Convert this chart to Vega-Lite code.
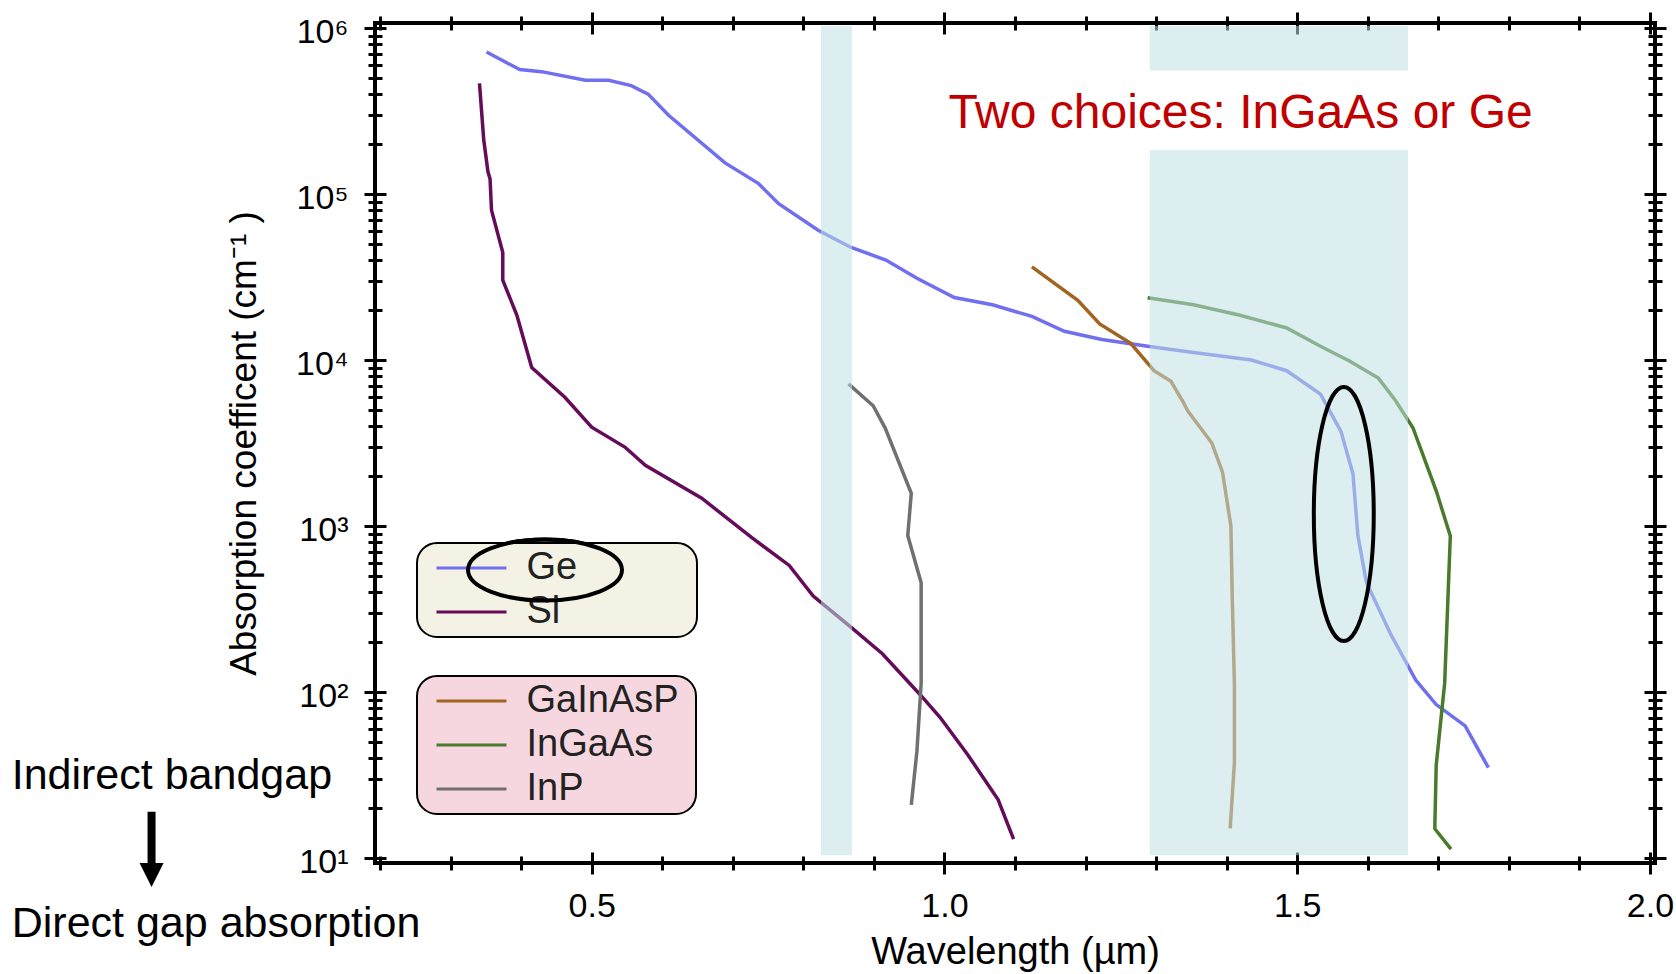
{
  "$schema": "https://vega.github.io/schema/vega-lite/v6.json",
  "width": 1280,
  "height": 840,
  "autosize": {"type": "none"},
  "padding": {"left": 375, "top": 23, "right": 21, "bottom": 111},
  "background": "white",
  "config": {
    "font": "Liberation Sans",
    "view": {"stroke": "black", "strokeWidth": 4},
    "axis": {"grid": false, "domain": false, "tickColor": "black", "tickWidth": 3, "labelColor": "black", "titleColor": "black", "titleFontWeight": "normal", "labelFont": "Liberation Sans", "titleFont": "Liberation Sans"}
  },
  "datasets": {
    "curves": [
      {"material": "Ge", "wavelength": 0.351, "absorption": 717000},
      {"material": "Ge", "wavelength": 0.398, "absorption": 562000},
      {"material": "Ge", "wavelength": 0.429, "absorption": 546000},
      {"material": "Ge", "wavelength": 0.491, "absorption": 484000},
      {"material": "Ge", "wavelength": 0.524, "absorption": 484000},
      {"material": "Ge", "wavelength": 0.556, "absorption": 450000},
      {"material": "Ge", "wavelength": 0.58, "absorption": 400000},
      {"material": "Ge", "wavelength": 0.609, "absorption": 298000},
      {"material": "Ge", "wavelength": 0.689, "absorption": 154000},
      {"material": "Ge", "wavelength": 0.736, "absorption": 116000},
      {"material": "Ge", "wavelength": 0.765, "absorption": 87500},
      {"material": "Ge", "wavelength": 0.821, "absorption": 60500},
      {"material": "Ge", "wavelength": 0.867, "absorption": 47800},
      {"material": "Ge", "wavelength": 0.917, "absorption": 40000},
      {"material": "Ge", "wavelength": 0.961, "absorption": 31100},
      {"material": "Ge", "wavelength": 1.014, "absorption": 23800},
      {"material": "Ge", "wavelength": 1.068, "absorption": 21500},
      {"material": "Ge", "wavelength": 1.124, "absorption": 18300},
      {"material": "Ge", "wavelength": 1.17, "absorption": 14900},
      {"material": "Ge", "wavelength": 1.223, "absorption": 13300},
      {"material": "Ge", "wavelength": 1.288, "absorption": 12100},
      {"material": "Ge", "wavelength": 1.353, "absorption": 11100},
      {"material": "Ge", "wavelength": 1.435, "absorption": 10000},
      {"material": "Ge", "wavelength": 1.485, "absorption": 8620},
      {"material": "Ge", "wavelength": 1.533, "absorption": 6230},
      {"material": "Ge", "wavelength": 1.562, "absorption": 3720},
      {"material": "Ge", "wavelength": 1.579, "absorption": 2060},
      {"material": "Ge", "wavelength": 1.586, "absorption": 876},
      {"material": "Ge", "wavelength": 1.598, "absorption": 458},
      {"material": "Ge", "wavelength": 1.632, "absorption": 225},
      {"material": "Ge", "wavelength": 1.668, "absorption": 118},
      {"material": "Ge", "wavelength": 1.697, "absorption": 84},
      {"material": "Ge", "wavelength": 1.738, "absorption": 62.5},
      {"material": "Ge", "wavelength": 1.771, "absorption": 35},
      {"material": "Si", "wavelength": 0.341, "absorption": 464000},
      {"material": "Si", "wavelength": 0.347, "absorption": 212000},
      {"material": "Si", "wavelength": 0.353, "absorption": 136000},
      {"material": "Si", "wavelength": 0.356, "absorption": 123000},
      {"material": "Si", "wavelength": 0.358, "absorption": 80000},
      {"material": "Si", "wavelength": 0.374, "absorption": 44400},
      {"material": "Si", "wavelength": 0.374, "absorption": 30300},
      {"material": "Si", "wavelength": 0.394, "absorption": 18600},
      {"material": "Si", "wavelength": 0.415, "absorption": 9010},
      {"material": "Si", "wavelength": 0.462, "absorption": 5960},
      {"material": "Si", "wavelength": 0.5, "absorption": 3940},
      {"material": "Si", "wavelength": 0.547, "absorption": 2990},
      {"material": "Si", "wavelength": 0.576, "absorption": 2320},
      {"material": "Si", "wavelength": 0.656, "absorption": 1470},
      {"material": "Si", "wavelength": 0.727, "absorption": 850},
      {"material": "Si", "wavelength": 0.78, "absorption": 579},
      {"material": "Si", "wavelength": 0.814, "absorption": 378},
      {"material": "Si", "wavelength": 0.867, "absorption": 247},
      {"material": "Si", "wavelength": 0.912, "absorption": 170},
      {"material": "Si", "wavelength": 0.965, "absorption": 97},
      {"material": "Si", "wavelength": 0.994, "absorption": 70.2},
      {"material": "Si", "wavelength": 1.033, "absorption": 41.9},
      {"material": "Si", "wavelength": 1.076, "absorption": 22.5},
      {"material": "Si", "wavelength": 1.098, "absorption": 13},
      {"material": "GaInAsP", "wavelength": 1.124, "absorption": 36400},
      {"material": "GaInAsP", "wavelength": 1.189, "absorption": 22900},
      {"material": "GaInAsP", "wavelength": 1.22, "absorption": 16500},
      {"material": "GaInAsP", "wavelength": 1.264, "absorption": 12600},
      {"material": "GaInAsP", "wavelength": 1.297, "absorption": 8620},
      {"material": "GaInAsP", "wavelength": 1.321, "absorption": 7440},
      {"material": "GaInAsP", "wavelength": 1.338, "absorption": 5620},
      {"material": "GaInAsP", "wavelength": 1.345, "absorption": 4920},
      {"material": "GaInAsP", "wavelength": 1.379, "absorption": 3160},
      {"material": "GaInAsP", "wavelength": 1.394, "absorption": 2120},
      {"material": "GaInAsP", "wavelength": 1.406, "absorption": 1000},
      {"material": "GaInAsP", "wavelength": 1.408, "absorption": 361},
      {"material": "GaInAsP", "wavelength": 1.411, "absorption": 111},
      {"material": "GaInAsP", "wavelength": 1.411, "absorption": 37.7},
      {"material": "GaInAsP", "wavelength": 1.405, "absorption": 15.1},
      {"material": "InGaAs", "wavelength": 1.288, "absorption": 23700},
      {"material": "InGaAs", "wavelength": 1.353, "absorption": 21500},
      {"material": "InGaAs", "wavelength": 1.419, "absorption": 18600},
      {"material": "InGaAs", "wavelength": 1.485, "absorption": 15600},
      {"material": "InGaAs", "wavelength": 1.533, "absorption": 12100},
      {"material": "InGaAs", "wavelength": 1.574, "absorption": 9860},
      {"material": "InGaAs", "wavelength": 1.615, "absorption": 7780},
      {"material": "InGaAs", "wavelength": 1.639, "absorption": 5720},
      {"material": "InGaAs", "wavelength": 1.664, "absorption": 3910},
      {"material": "InGaAs", "wavelength": 1.697, "absorption": 1630},
      {"material": "InGaAs", "wavelength": 1.717, "absorption": 870},
      {"material": "InGaAs", "wavelength": 1.709, "absorption": 113},
      {"material": "InGaAs", "wavelength": 1.697, "absorption": 36.3},
      {"material": "InGaAs", "wavelength": 1.695, "absorption": 15},
      {"material": "InGaAs", "wavelength": 1.718, "absorption": 11.3},
      {"material": "InP", "wavelength": 0.864, "absorption": 7180},
      {"material": "InP", "wavelength": 0.899, "absorption": 5300},
      {"material": "InP", "wavelength": 0.916, "absorption": 3890},
      {"material": "InP", "wavelength": 0.953, "absorption": 1575},
      {"material": "InP", "wavelength": 0.948, "absorption": 876},
      {"material": "InP", "wavelength": 0.967, "absorption": 455},
      {"material": "InP", "wavelength": 0.967, "absorption": 113},
      {"material": "InP", "wavelength": 0.961, "absorption": 44},
      {"material": "InP", "wavelength": 0.953, "absorption": 20.9}
    ],
    "bands": [
      {"start": 0.825, "end": 0.869, "low": 10.4, "high": 1030000},
      {"start": 1.291, "end": 1.657, "low": 10.4, "high": 184000},
      {"start": 1.291, "end": 1.657, "low": 555000, "high": 1030000}
    ]
  },
  "layer": [
    {
      "data": {"name": "curves"},
      "transform": [{"filter": {"field": "material", "oneOf": ["Ge", "Si"]}}],
      "mark": {"type": "line", "strokeWidth": 3.5},
      "encoding": {
        "x": {"field": "wavelength", "type": "quantitative",
          "scale": {"domain": [0.1929, 2.0071], "nice": false, "zero": false},
          "axis": {"orient": "bottom", "values": [0.5, 1, 1.5, 2], "format": ".1f", "offset": -11, "tickSize": 22, "labelFontSize": 34, "labelPadding": 15, "labelFlush": false, "labelOverlap": false, "title": "Wavelength (µm)", "titleFontSize": 38, "titlePadding": 10}},
        "y": {"field": "absorption", "type": "quantitative",
          "scale": {"type": "log", "domain": [9.33, 1072000], "nice": false},
          "axis": {"orient": "left", "values": [10, 100, 1000, 10000, 100000, 1000000], "labelExpr": "'10' + ['⁰','¹','²','³','⁴','⁵','⁶'][round(log(datum.value)/LN10)]", "offset": -11, "tickSize": 22, "labelFontSize": 34, "labelPadding": 16, "labelOffset": 4, "labelOverlap": false, "title": "Absorption coefficent (cm⁻¹ )", "titleFontSize": 37, "titlePadding": 32}},
        "color": {"field": "material", "type": "nominal",
          "scale": {"domain": ["Ge", "Si"], "range": ["#6f6ff0", "#640c5a"]},
          "legend": {"orient": "none", "legendX": 42, "legendY": 520, "title": null, "padding": 6, "fillColor": "#f4f2e4", "strokeColor": "black", "cornerRadius": 20, "symbolType": "M -2.5 0 L 2.5 0", "symbolSize": 784, "symbolStrokeWidth": 3, "symbolOffset": 29.5, "labelOffset": 36, "labelFontSize": 38, "labelFont": "Liberation Sans", "labelColor": "#222222", "labelLimit": 400, "rowPadding": 6, "labelExpr": "datum.label + '          \u2009\u200b'", "zindex": 1, "encode": {"legend": {"update": {"strokeWidth": {"value": 2}}}}}},
        "order": {"value": null}
      }
    },
    {
      "data": {"name": "curves"},
      "transform": [{"filter": {"field": "material", "oneOf": ["GaInAsP", "InGaAs", "InP"]}}],
      "mark": {"type": "line", "strokeWidth": 3.5},
      "encoding": {
        "x": {"field": "wavelength", "type": "quantitative",
          "scale": {"domain": [0.1929, 2.0071], "nice": false, "zero": false},
          "axis": {"orient": "bottom", "values": [0.2, 0.3, 0.4, 0.6, 0.7, 0.8, 0.9, 1.1, 1.2, 1.3, 1.4, 1.6, 1.7, 1.8, 1.9], "offset": -7, "tickSize": 14, "labels": false, "title": null}},
        "y": {"field": "absorption", "type": "quantitative",
          "scale": {"type": "log", "domain": [9.33, 1072000], "nice": false},
          "axis": {"orient": "left", "values": [20, 30, 40, 50, 60, 70, 80, 90, 200, 300, 400, 500, 600, 700, 800, 900, 2000, 3000, 4000, 5000, 6000, 7000, 8000, 9000, 20000, 30000, 40000, 50000, 60000, 70000, 80000, 90000, 200000, 300000, 400000, 500000, 600000, 700000, 800000, 900000], "offset": -7, "tickSize": 14, "labels": false, "title": null}},
        "color": {"field": "material", "type": "nominal",
          "scale": {"domain": ["GaInAsP", "InGaAs", "InP"], "range": ["#a2641f", "#4a7a2c", "#707070"]},
          "legend": {"orient": "none", "legendX": 42, "legendY": 653, "title": null, "padding": 6, "fillColor": "#f6d7df", "strokeColor": "black", "cornerRadius": 20, "symbolType": "M -2.5 0 L 2.5 0", "symbolSize": 784, "symbolStrokeWidth": 3, "symbolOffset": 29.5, "labelOffset": 36, "labelFontSize": 38, "labelFont": "Liberation Sans", "labelColor": "#222222", "labelLimit": 400, "rowPadding": 6, "labelExpr": "datum.label + ' \u200b'", "zindex": 1, "encode": {"legend": {"update": {"strokeWidth": {"value": 2}}}}}},
        "order": {"value": null}
      }
    },
    {
      "data": {"name": "bands"},
      "mark": {"type": "rect", "color": "#bfe0e3", "opacity": 0.55},
      "encoding": {
        "x": {"field": "start", "type": "quantitative",
          "scale": {"domain": [0.1929, 2.0071], "nice": false, "zero": false},
          "axis": {"orient": "top", "values": [0.5, 1, 1.5, 2], "offset": -11, "tickSize": 22, "labels": false, "title": null}},
        "x2": {"field": "end"},
        "y": {"field": "low", "type": "quantitative",
          "scale": {"type": "log", "domain": [9.33, 1072000], "nice": false},
          "axis": {"orient": "right", "values": [10, 100, 1000, 10000, 100000, 1000000], "offset": -11, "tickSize": 22, "labels": false, "title": null}},
        "y2": {"field": "high"}
      }
    },
    {
      "data": {"values": [{"note": "Ge", "wavelength": 0.4338, "absorption": 543}]},
      "mark": {"type": "point", "filled": false, "color": "black", "strokeWidth": 4, "size": 23716, "opacity": 1},
      "encoding": {
        "x": {"field": "wavelength", "type": "quantitative",
          "scale": {"domain": [0.1929, 2.0071], "nice": false, "zero": false},
          "axis": {"orient": "top", "values": [0.2, 0.3, 0.4, 0.6, 0.7, 0.8, 0.9, 1.1, 1.2, 1.3, 1.4, 1.6, 1.7, 1.8, 1.9], "offset": -7, "tickSize": 14, "labels": false, "title": null}},
        "y": {"field": "absorption", "type": "quantitative",
          "scale": {"type": "log", "domain": [9.33, 1072000], "nice": false},
          "axis": {"orient": "right", "values": [20, 30, 40, 50, 60, 70, 80, 90, 200, 300, 400, 500, 600, 700, 800, 900, 2000, 3000, 4000, 5000, 6000, 7000, 8000, 9000, 20000, 30000, 40000, 50000, 60000, 70000, 80000, 90000, 200000, 300000, 400000, 500000, 600000, 700000, 800000, 900000], "offset": -7, "tickSize": 14, "labels": false, "title": null}},
        "shape": {"field": "note", "type": "nominal",
          "scale": {"range": ["M 1 0 C 1 0.2187 0.5523 0.396 0 0.396 C -0.5523 0.396 -1 0.2187 -1 0 C -1 -0.2187 -0.5523 -0.396 0 -0.396 C 0.5523 -0.396 1 -0.2187 1 0 Z"]},
          "legend": {"orient": "none", "legendX": 91, "legendY": 468, "title": null, "padding": 0, "labelExpr": "''", "labelFontSize": 1, "symbolSize": 23716, "symbolStrokeWidth": 4, "symbolStrokeColor": "black", "symbolFillColor": "transparent", "symbolOpacity": 1, "zindex": 3}}
      }
    },
    {
      "data": {"values": [{"wavelength": 1.566, "absorption": 1180}]},
      "mark": {"type": "point", "filled": false, "color": "black", "strokeWidth": 4, "size": 64516, "opacity": 1, "shape": "M 0.236 0 C 0.236 0.5523 0.1303 1 0 1 C -0.1303 1 -0.236 0.5523 -0.236 0 C -0.236 -0.5523 -0.1303 -1 0 -1 C 0.1303 -1 0.236 -0.5523 0.236 0 Z"},
      "encoding": {
        "x": {"field": "wavelength", "type": "quantitative", "scale": {"domain": [0.1929, 2.0071], "nice": false, "zero": false}, "axis": null},
        "y": {"field": "absorption", "type": "quantitative", "scale": {"type": "log", "domain": [9.33, 1072000], "nice": false}, "axis": null}
      }
    },
    {
      "data": {"values": [{"note": "Two choices: InGaAs or Ge", "wavelength": 1.4197, "absorption": 250000}]},
      "mark": {"type": "text", "font": "Liberation Sans", "fontSize": 48, "color": "#c00000", "align": "center", "baseline": "alphabetic"},
      "encoding": {
        "x": {"field": "wavelength", "type": "quantitative", "scale": {"domain": [0.1929, 2.0071], "nice": false, "zero": false}, "axis": null},
        "y": {"field": "absorption", "type": "quantitative", "scale": {"type": "log", "domain": [9.33, 1072000], "nice": false}, "axis": null},
        "text": {"field": "note"}
      }
    },
    {
      "data": {"values": [
        {"note": "Indirect bandgap", "wavelength": -0.322, "absorption": 26.0},
        {"note": "Direct gap absorption", "wavelength": -0.322, "absorption": 3.34}
      ]},
      "mark": {"type": "text", "font": "Liberation Sans", "fontSize": 43, "color": "black", "align": "left", "baseline": "alphabetic"},
      "encoding": {
        "x": {"field": "wavelength", "type": "quantitative", "scale": {"domain": [0.1929, 2.0071], "nice": false, "zero": false}, "axis": null},
        "y": {"field": "absorption", "type": "quantitative", "scale": {"type": "log", "domain": [9.33, 1072000], "nice": false}, "axis": null},
        "text": {"field": "note"}
      }
    },
    {
      "data": {"values": [{"wavelength": -0.1238, "top": 19.0, "bottom": 9.08}]},
      "mark": {"type": "rule", "color": "black", "strokeWidth": 8},
      "encoding": {
        "x": {"field": "wavelength", "type": "quantitative", "scale": {"domain": [0.1929, 2.0071], "nice": false, "zero": false}, "axis": null},
        "y": {"field": "top", "type": "quantitative", "scale": {"type": "log", "domain": [9.33, 1072000], "nice": false}, "axis": null},
        "y2": {"field": "bottom"}
      }
    },
    {
      "data": {"values": [{"wavelength": -0.1238, "absorption": 7.91}]},
      "mark": {"type": "point", "filled": true, "color": "black", "opacity": 1, "size": 576, "shape": "M -1 -1 L 1 -1 L 0 1 Z"},
      "encoding": {
        "x": {"field": "wavelength", "type": "quantitative", "scale": {"domain": [0.1929, 2.0071], "nice": false, "zero": false}, "axis": null},
        "y": {"field": "absorption", "type": "quantitative", "scale": {"type": "log", "domain": [9.33, 1072000], "nice": false}, "axis": null}
      }
    }
  ],
  "resolve": {
    "scale": {"color": "independent"},
    "axis": {"x": "independent", "y": "independent"},
    "legend": {"color": "independent"}
  }
}
